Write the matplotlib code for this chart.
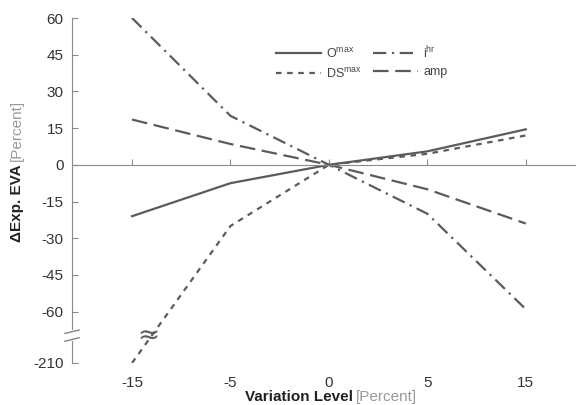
import matplotlib
matplotlib.use("Agg")
import matplotlib.pyplot as plt
import matplotlib.transforms as mtransforms
import numpy as np

plt.rcParams['font.family'] = ['Liberation Sans', 'DejaVu Sans']
plt.rcParams['mathtext.fontset'] = 'custom'
plt.rcParams['mathtext.rm'] = 'Liberation Sans'

# data
levels = ['-15', '-5', '0', '5', '15']
o_max = [-21, -7.5, 0, 5.5, 14.5]
ds_max = [-210, -25, 0, 4.5, 12]
i_hr = [60, 20, 0, -20, -59]
amp = [18.5, 8.5, 0, -10, -24]
yticks = [60, 45, 30, 15, 0, -15, -30, -45, -60, -210]


def squash(v):
    # broken axis: values below -60 are compressed into the short stub
    v = np.asarray(v, dtype=float)
    return np.where(v < -60, -81 + (v + 210) * (21 / 150), v)


col = '#5b5b5b'
fig = plt.figure(figsize=(5.8, 4.05), dpi=100)
ax = fig.add_axes([72 / 580, 1 - 363 / 405, (575 - 72) / 580, (363 - 18) / 405])
x = np.arange(len(levels))

# order chosen so that the 2-column legend reads O, i / DS, amp
ax.plot(x, squash(o_max), color=col, lw=1.6, label=r'O$^{\mathrm{max}}$')
ax.plot(x, squash(ds_max), color=col, lw=1.6, dashes=(2.5, 2.5), label=r'DS$^{\mathrm{max}}$')
ax.plot(x, squash(i_hr), color=col, lw=1.6, dashes=(6, 2.5, 1, 2.5), label=r'i$^{\mathrm{hr}}$')
ax.plot(x, squash(amp), color=col, lw=1.6, dashes=(7, 3), label='amp')

ax.set_xlim(-0.61, 4.5)
ax.set_ylim(-81, 60)

for s in ['top', 'right']:
    ax.spines[s].set_visible(False)
ax.spines['left'].set_color('#8a8a8a')
ax.spines['bottom'].set_color('#8a8a8a')
ax.spines['bottom'].set_position(('data', 0))
ax.set_xticks(x)
ax.tick_params(axis='x', direction='in', length=4, color='#8a8a8a', labelbottom=False)
ax.set_yticks(squash(yticks))
ax.set_yticklabels([str(t) for t in yticks])
ax.tick_params(axis='y', direction='in', length=4, color='#8a8a8a', labelsize=11,
               labelcolor='#333333', pad=6)

sec = ax.secondary_xaxis(-0.035)
sec.set_xticks(x)
sec.set_xticklabels(levels)
sec.spines['bottom'].set_visible(False)
sec.tick_params(length=0, labelsize=11, labelcolor='#333333', pad=1)

# axis break marks on the left spine
bt = mtransforms.blended_transform_factory(ax.transAxes, ax.transData)
ax.plot([0, 0], [-68.4, -71.2], color='white', lw=3, transform=bt, clip_on=False, zorder=5)
for yb in (-68.2, -71.4):
    ax.plot([-0.014, 0.014], [yb - 0.7, yb + 0.7], color='#8a8a8a', lw=1.1,
            transform=bt, clip_on=False, zorder=6)
# wavy break marker on the DS line
ax.text(0.16, -69.6, '≈', fontsize=19, color=col, ha='center', va='center',
        family='DejaVu Sans', zorder=7)

ax.legend(ncol=2, loc='upper left', bbox_to_anchor=(265 / 580, 1 - 33 / 405),
          bbox_transform=fig.transFigure, frameon=False, fontsize=9,
          handlelength=3.6, columnspacing=0.9, handletextpad=0.4, labelspacing=0.45,
          labelcolor='#444444')

# axis titles: bold part + gray [Percent]
fig.canvas.draw()
r = fig.canvas.get_renderer()
t1 = fig.text(245 / 580, 1 - 397 / 405, 'Variation Level', fontsize=11, fontweight='bold',
              ha='left', va='center', color='#222222')
w = t1.get_window_extent(r).width
fig.text(245 / 580 + (w + 3) / 580, 1 - 397 / 405, '[Percent]', fontsize=11,
         ha='left', va='center', color='#999999')

t2 = fig.text(17 / 580, 1 - 242 / 405, 'ΔExp. EVA', fontsize=11, fontweight='bold',
              rotation=90, ha='center', va='bottom', color='#222222')
h = t2.get_window_extent(r).height
fig.text(17 / 580, 1 - 242 / 405 + (h + 3) / 405, '[Percent]', fontsize=11,
         rotation=90, ha='center', va='bottom', color='#999999')

fig.savefig('out.png', dpi=100)
